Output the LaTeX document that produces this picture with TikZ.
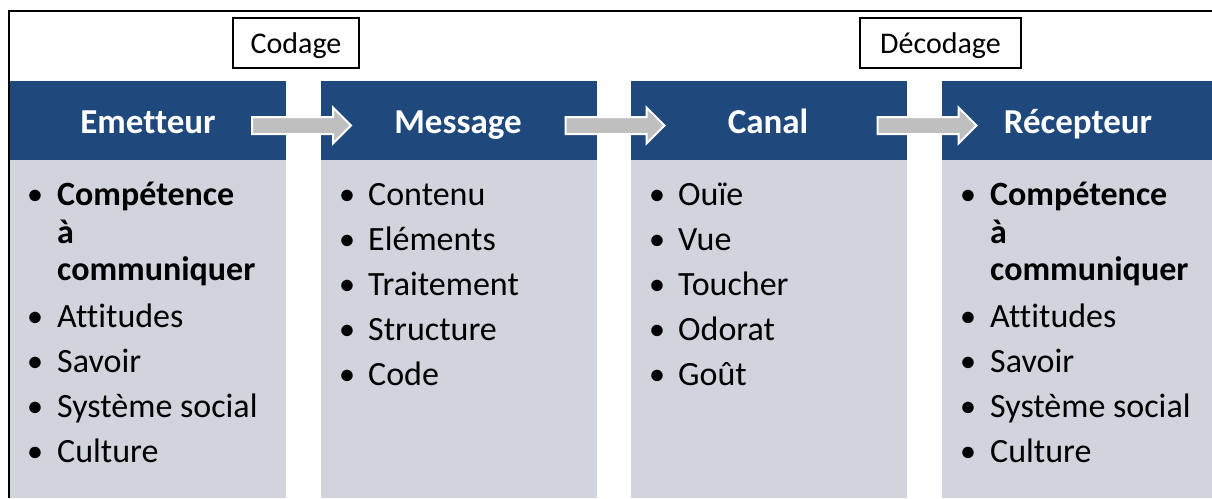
\documentclass[tikz,border=0pt]{standalone}
\usepackage{fontspec}
\setmainfont{Carlito}[Ligatures={NoCommon}]
\definecolor{hdr}{HTML}{1F497D}
\definecolor{bodyc}{HTML}{D1D4DC}
\definecolor{arrc}{HTML}{BFBFBF}
\begin{document}
\begin{tikzpicture}[x=1pt,y=-1pt,
  hdrbox/.style={fill=hdr, draw=none, minimum width=#1, minimum height=80pt, inner sep=0pt, anchor=north west},
  bodybox/.style={fill=bodyc, draw=none, minimum width=#1, minimum height=338pt, inner sep=0pt, anchor=north west},
  hdrtxt/.style={anchor=base, inner sep=0pt, text=white, font=\fontsize{35}{40}\selectfont\bfseries},
  bul/.style={anchor=base, inner sep=0pt, font=\fontsize{27}{30}\selectfont\bfseries, yshift=1.5pt},
  itm/.style={anchor=base west, inner sep=0pt, font=\fontsize{34}{40}\selectfont},
  tagbox/.style={draw=black, line width=2pt, fill=white, minimum height=50pt, inner sep=0pt, text height=21pt, text depth=0pt, font=\fontsize{30}{34}\selectfont},
  flowarrow/.style={fill=arrc, draw=white, line width=2pt, line join=miter}
]
\useasboundingbox (0,0) rectangle (1212,498);
\fill[white] (0,0) rectangle (1212,498);

% frame
\coordinate (fbl) at (9,498);
\coordinate (ftl) at (9,11);
\coordinate (ftr) at (1212,11);
\draw[line width=2pt] (fbl) -- (ftl) -- (ftr);

% columns
\node[hdrbox=276pt] (h1) at (10,81) {};
\node[hdrbox=276pt] (h2) at (321,81) {};
\node[hdrbox=276pt] (h3) at (631,81) {};
\node[hdrbox=270pt] (h4) at (942,81) {};
\node[bodybox=276pt] (b1) at (10,160) {};
\node[bodybox=276pt] (b2) at (321,160) {};
\node[bodybox=276pt] (b3) at (631,160) {};
\node[bodybox=270pt] (b4) at (942,160) {};

% header titles
\node[hdrtxt] (t1) at (148,133) {Emetteur};
\node[hdrtxt] (t2) at (458,133) {Message};
\node[hdrtxt] (t3) at (768,133) {Canal};
\node[hdrtxt] (t4) at (1078,133) {Récepteur};

% arrows
\coordinate (a1) at (301.5,125.5);
\coordinate (a2) at (615,125.5);
\coordinate (a3) at (927,125.5);
\foreach \c in {a1,a2,a3}{
  \draw[flowarrow, shift={(\c)}] (-49.5,-8.5) -- (31.5,-8.5) -- (31.5,-18) -- (49.5,0) -- (31.5,18) -- (31.5,8.5) -- (-49.5,8.5) -- cycle;
}

% tags
\node[tagbox, minimum width=126pt] (cod) at (296,43) {Codage};
\node[tagbox, minimum width=161pt] (dec) at (940.5,43) {Décodage};

% Emetteur list
\node[bul] (e1b) at (35,205) {•};
\node[itm] (e1) at (57,205) {\bfseries Compétence};
\node[itm] (e1x) at (57,243) {\bfseries à};
\node[itm] (e1y) at (57,280) {\bfseries communiquer};
\node[bul] (e2b) at (35,327) {•};
\node[itm] (e2) at (57,327) {Attitudes};
\node[bul] (e3b) at (35,372) {•};
\node[itm] (e3) at (57,372) {Savoir};
\node[bul] (e4b) at (35,417) {•};
\node[itm] (e4) at (57,417) {Système social};
\node[bul] (e5b) at (35,462) {•};
\node[itm] (e5) at (57,462) {Culture};

% Message list
\node[bul] (m1b) at (347,205) {•};
\node[itm] (m1) at (368,205) {Contenu};
\node[bul] (m2b) at (347,250) {•};
\node[itm] (m2) at (368,250) {Eléments};
\node[bul] (m3b) at (347,295) {•};
\node[itm] (m3) at (368,295) {Traitement};
\node[bul] (m4b) at (347,340) {•};
\node[itm] (m4) at (368,340) {Structure};
\node[bul] (m5b) at (347,385) {•};
\node[itm] (m5) at (368,385) {Code};

% Canal list
\node[bul] (c1b) at (657,205) {•};
\node[itm] (c1) at (678,205) {Ouïe};
\node[bul] (c2b) at (657,250) {•};
\node[itm] (c2) at (678,250) {Vue};
\node[bul] (c3b) at (657,295) {•};
\node[itm] (c3) at (678,295) {Toucher};
\node[bul] (c4b) at (657,340) {•};
\node[itm] (c4) at (678,340) {Odorat};
\node[bul] (c5b) at (657,385) {•};
\node[itm] (c5) at (678,385) {Goût};

% Recepteur list
\node[bul] (r1b) at (968,205) {•};
\node[itm] (r1) at (990,205) {\bfseries Compétence};
\node[itm] (r1x) at (990,243) {\bfseries à};
\node[itm] (r1y) at (990,280) {\bfseries communiquer};
\node[bul] (r2b) at (968,327) {•};
\node[itm] (r2) at (990,327) {Attitudes};
\node[bul] (r3b) at (968,372) {•};
\node[itm] (r3) at (990,372) {Savoir};
\node[bul] (r4b) at (968,417) {•};
\node[itm] (r4) at (990,417) {Système social};
\node[bul] (r5b) at (968,462) {•};
\node[itm] (r5) at (990,462) {Culture};
\end{tikzpicture}
\end{document}
